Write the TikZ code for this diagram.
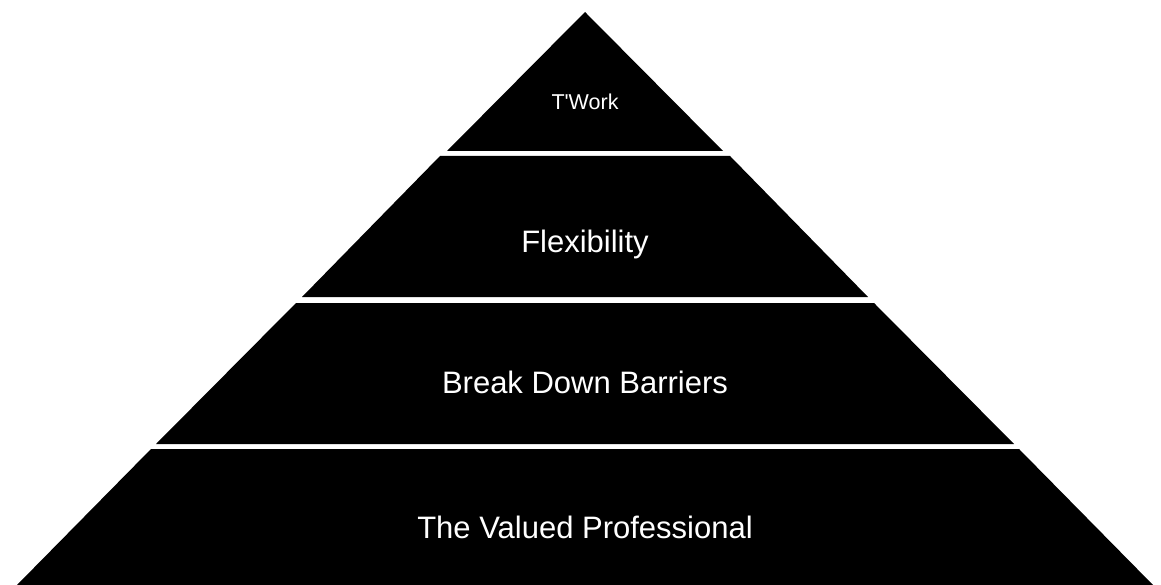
\documentclass[tikz,border=0pt]{standalone}
\usepackage{fontspec}
\setmainfont{Liberation Sans}
\begin{document}
\begin{tikzpicture}[x=1pt,y=-1pt,
  tier/.style={fill=black,draw=none},
  lbl/.style={text=white,anchor=base,inner sep=0pt,font=\fontsize{31}{33}\selectfont},
  small/.style={text=white,anchor=base,inner sep=0pt,font=\fontsize{21.5}{23}\selectfont}]
\useasboundingbox (0,0) rectangle (1161,585);
% tiers: apex (585,12), base (17,585)-(1153,585)
\path[tier] (585,12) -- (723,151) -- (447,151) -- cycle;
\path[tier] (440,156) -- (730,156) -- (868,297) -- (302,297) -- cycle;
\path[tier] (296,303) -- (874,303) -- (1014,444) -- (156,444) -- cycle;
\path[tier] (151,449) -- (1019,449) -- (1153,585) -- (17,585) -- cycle;
\node[small] (t1) at (585,110) {T\textquotesingle Work};
\node[lbl] (t2) at (585,252) {Flexibility};
\node[lbl] (t3) at (585,393) {Break Down Barriers};
\node[lbl] (t4) at (585,538) {The Valued Professional};
\end{tikzpicture}
\end{document}
